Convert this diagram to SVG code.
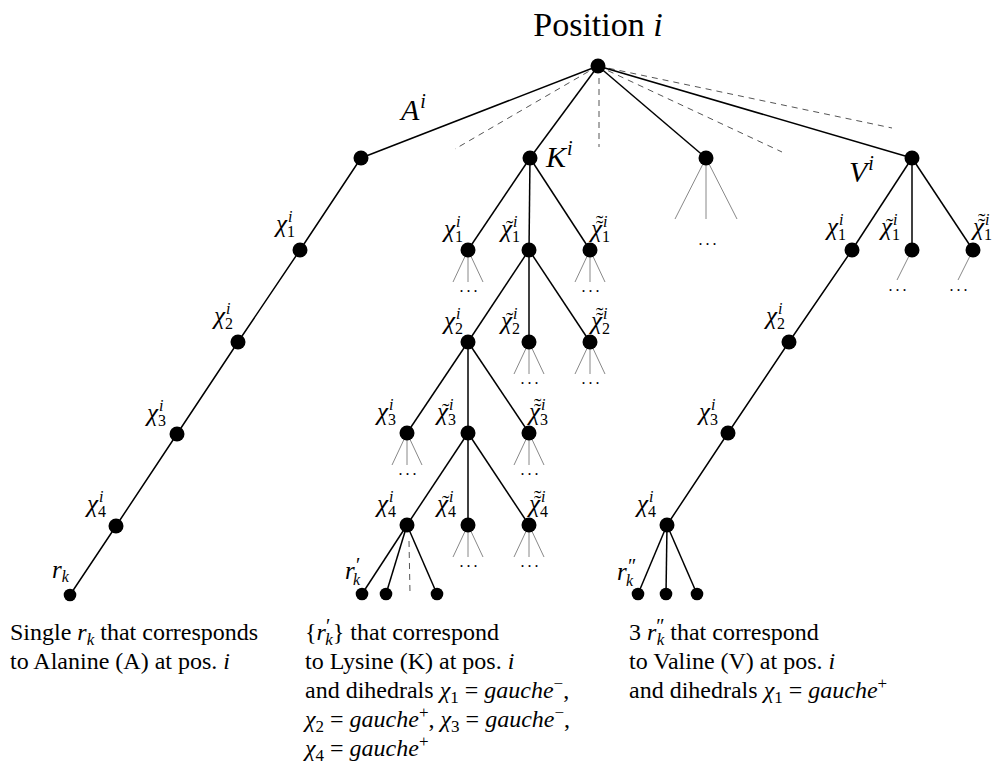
<svg xmlns="http://www.w3.org/2000/svg" width="997" height="767" viewBox="0 0 997 767">
<style>
text{font-family:"Liberation Serif","Times New Roman",serif;fill:#000}
.e{stroke:#000;stroke-width:1.5;fill:none}
.f{stroke:#888;stroke-width:1;fill:none}
.d{stroke:#555;stroke-width:1;stroke-dasharray:6,5;fill:none}
.n{fill:#000}
.m{font-size:25px;font-style:italic}
.sb{font-size:16px;font-style:normal}
.sp{font-size:16px;font-style:italic}
.tl{font-size:22px;font-style:normal}
.big{font-size:30px;font-style:italic}
.bsp{font-size:20px;font-style:italic}
.dots{font-size:16px;letter-spacing:3px}
.body{font-size:24px}
.it{font-style:italic}
.s17{font-size:17px}
.pr{font-size:20px}
</style>
<rect width="997" height="767" fill="#fff"/>
<text x="598" y="36" font-size="34" text-anchor="middle">Position <tspan font-style="italic">i</tspan></text>

<g id="connectors">
<line class="d" x1="598" y1="66" x2="455" y2="149"/>
<line class="d" x1="599" y1="78" x2="599" y2="147"/>
<line class="d" x1="598" y1="66" x2="782" y2="152"/>
<line class="d" x1="598" y1="66" x2="892" y2="128"/>
<line class="e" x1="598" y1="66" x2="361" y2="158"/>
<line class="e" x1="598" y1="66" x2="530" y2="158"/>
<line class="e" x1="598" y1="66" x2="706" y2="158"/>
<line class="e" x1="598" y1="66" x2="912" y2="158"/>
<polyline class="e" points="361,158 300,250 238,342 177,434 116,526 70,595"/>
<line class="e" x1="530" y1="158" x2="468" y2="250"/>
<line class="e" x1="530" y1="158" x2="529" y2="250"/>
<line class="e" x1="530" y1="158" x2="590" y2="250"/>
<line class="e" x1="529" y1="250" x2="468" y2="342"/>
<line class="e" x1="529" y1="250" x2="529" y2="342"/>
<line class="e" x1="529" y1="250" x2="590" y2="342"/>
<line class="e" x1="468" y1="342" x2="407" y2="433"/>
<line class="e" x1="468" y1="342" x2="468" y2="433"/>
<line class="e" x1="468" y1="342" x2="529" y2="433"/>
<line class="e" x1="468" y1="433" x2="407" y2="525"/>
<line class="e" x1="468" y1="433" x2="468" y2="525"/>
<line class="e" x1="468" y1="433" x2="529" y2="525"/>
<line class="e" x1="407" y1="525" x2="362" y2="594"/>
<line class="e" x1="407" y1="525" x2="386" y2="594"/>
<line class="e" x1="407" y1="525" x2="437" y2="594"/>
<line class="d" x1="409" y1="541" x2="410" y2="593"/>
<line class="e" x1="912" y1="158" x2="852" y2="250"/>
<line class="e" x1="912" y1="158" x2="912" y2="250"/>
<line class="e" x1="912" y1="158" x2="973" y2="250"/>
<polyline class="e" points="852,250 789,342 728,433 667,525"/>
<line class="e" x1="667" y1="525" x2="638" y2="594"/>
<line class="e" x1="667" y1="525" x2="666" y2="594"/>
<line class="e" x1="667" y1="525" x2="697" y2="594"/>
<path class="f" d="M706,158L675,219M706,158L706,219M706,158L737,219"/>
<path class="f" d="M468,250l-15,32M468,250l0,32M468,250l15,32"/>
<path class="f" d="M590,250l-15,32M590,250l0,32M590,250l15,32"/>
<path class="f" d="M529,342l-15,32M529,342l0,32M529,342l15,32"/>
<path class="f" d="M590,342l-15,32M590,342l0,32M590,342l15,32"/>
<path class="f" d="M407,433l-15,32M407,433l0,32M407,433l15,32"/>
<path class="f" d="M529,433l-15,32M529,433l0,32M529,433l15,32"/>
<path class="f" d="M468,525l-15,32M468,525l0,32M468,525l15,32"/>
<path class="f" d="M529,525l-15,32M529,525l0,32M529,525l15,32"/>
<path class="f" d="M912,250l-15,30M973,250l-15,30"/>
</g>

<g id="fan-dots">
<text class="dots" x="709" y="245" text-anchor="middle">...</text>
<text class="dots" x="470" y="292" text-anchor="middle">...</text>
<text class="dots" x="592" y="292" text-anchor="middle">...</text>
<text class="dots" x="531" y="384" text-anchor="middle">...</text>
<text class="dots" x="592" y="384" text-anchor="middle">...</text>
<text class="dots" x="409" y="475" text-anchor="middle">...</text>
<text class="dots" x="531" y="475" text-anchor="middle">...</text>
<text class="dots" x="470" y="567" text-anchor="middle">...</text>
<text class="dots" x="531" y="567" text-anchor="middle">...</text>
<text class="dots" x="899" y="291" text-anchor="middle">...</text>
<text class="dots" x="960" y="291" text-anchor="middle">...</text>
</g>

<g id="root"><circle class="n" cx="598" cy="66" r="7.5"/></g>

<g id="A"><circle class="n" cx="361" cy="158" r="7.5"/><text class="big" x="401" y="120">A<tspan class="bsp" dx="1" dy="-12">i</tspan></text></g>
<g id="A-chi1"><circle class="n" cx="300" cy="250" r="7.5"/><text class="m" x="276" y="232">χ<tspan class="sb" dy="5">1</tspan><tspan class="sp" dx="-7" dy="-15">i</tspan></text></g>
<g id="A-chi2"><circle class="n" cx="238" cy="342" r="7.5"/><text class="m" x="214" y="324">χ<tspan class="sb" dy="5">2</tspan><tspan class="sp" dx="-7" dy="-15">i</tspan></text></g>
<g id="A-chi3"><circle class="n" cx="177" cy="434" r="7.5"/><text class="m" x="147" y="421">χ<tspan class="sb" dy="5">3</tspan><tspan class="sp" dx="-7" dy="-15">i</tspan></text></g>
<g id="A-chi4"><circle class="n" cx="116" cy="526" r="7.5"/><text class="m" x="87" y="512">χ<tspan class="sb" dy="5">4</tspan><tspan class="sp" dx="-7" dy="-15">i</tspan></text></g>
<g id="A-rk"><circle class="n" cx="70" cy="595" r="6.3"/><text class="m" x="52" y="578">r<tspan class="sp" dy="4">k</tspan></text></g>

<g id="K"><circle class="n" cx="530" cy="158" r="7.5"/><text class="big" x="546" y="167">K<tspan class="bsp" dx="1" dy="-12">i</tspan></text></g>
<g id="K-chi1"><circle class="n" cx="468" cy="250" r="7.5"/><text class="m" x="444" y="237">χ<tspan class="sb" dy="5">1</tspan><tspan class="sp" dx="-7" dy="-15">i</tspan></text></g>
<g id="K-chit1"><circle class="n" cx="529" cy="250" r="7.5"/><text class="m" x="501" y="237">χ<tspan class="sb" dy="5">1</tspan><tspan class="sp" dx="-7" dy="-15">i</tspan><tspan class="tl" x="506" dy="8">˜</tspan></text></g>
<g id="K-chitt1"><circle class="n" cx="590" cy="250" r="7.5"/><text class="m" x="591" y="237">χ<tspan class="sb" dy="5">1</tspan><tspan class="sp" dx="-7" dy="-15">i</tspan><tspan class="tl" x="596" dy="8">˜</tspan><tspan class="tl" x="596" dy="-5">˜</tspan></text></g>
<g id="K-chi2"><circle class="n" cx="468" cy="342" r="7.5"/><text class="m" x="444" y="329">χ<tspan class="sb" dy="5">2</tspan><tspan class="sp" dx="-7" dy="-15">i</tspan></text></g>
<g id="K-chit2"><circle class="n" cx="529" cy="342" r="7.5"/><text class="m" x="501" y="329">χ<tspan class="sb" dy="5">2</tspan><tspan class="sp" dx="-7" dy="-15">i</tspan><tspan class="tl" x="506" dy="8">˜</tspan></text></g>
<g id="K-chitt2"><circle class="n" cx="590" cy="342" r="7.5"/><text class="m" x="591" y="329">χ<tspan class="sb" dy="5">2</tspan><tspan class="sp" dx="-7" dy="-15">i</tspan><tspan class="tl" x="596" dy="8">˜</tspan><tspan class="tl" x="596" dy="-5">˜</tspan></text></g>
<g id="K-chi3"><circle class="n" cx="407" cy="433" r="7.5"/><text class="m" x="377" y="420">χ<tspan class="sb" dy="5">3</tspan><tspan class="sp" dx="-7" dy="-15">i</tspan></text></g>
<g id="K-chit3"><circle class="n" cx="468" cy="433" r="7.5"/><text class="m" x="437" y="420">χ<tspan class="sb" dy="5">3</tspan><tspan class="sp" dx="-7" dy="-15">i</tspan><tspan class="tl" x="442" dy="8">˜</tspan></text></g>
<g id="K-chitt3"><circle class="n" cx="529" cy="433" r="7.5"/><text class="m" x="529" y="420">χ<tspan class="sb" dy="5">3</tspan><tspan class="sp" dx="-7" dy="-15">i</tspan><tspan class="tl" x="534" dy="8">˜</tspan><tspan class="tl" x="534" dy="-5">˜</tspan></text></g>
<g id="K-chi4"><circle class="n" cx="407" cy="525" r="7.5"/><text class="m" x="377" y="512">χ<tspan class="sb" dy="5">4</tspan><tspan class="sp" dx="-7" dy="-15">i</tspan></text></g>
<g id="K-chit4"><circle class="n" cx="468" cy="525" r="7.5"/><text class="m" x="437" y="512">χ<tspan class="sb" dy="5">4</tspan><tspan class="sp" dx="-7" dy="-15">i</tspan><tspan class="tl" x="442" dy="8">˜</tspan></text></g>
<g id="K-chitt4"><circle class="n" cx="529" cy="525" r="7.5"/><text class="m" x="529" y="512">χ<tspan class="sb" dy="5">4</tspan><tspan class="sp" dx="-7" dy="-15">i</tspan><tspan class="tl" x="534" dy="8">˜</tspan><tspan class="tl" x="534" dy="-5">˜</tspan></text></g>
<g id="K-leaf1"><circle class="n" cx="362" cy="594" r="6.3"/><text class="m" x="345" y="579">r<tspan class="pr" dy="-7">′</tspan><tspan class="sp" dx="-6" dy="13">k</tspan></text></g>
<g id="K-leaf2"><circle class="n" cx="386" cy="594" r="6.3"/></g>
<g id="K-leaf3"><circle class="n" cx="437" cy="594" r="6.3"/></g>

<g id="M"><circle class="n" cx="706" cy="158" r="7.5"/></g>

<g id="V"><circle class="n" cx="912" cy="158" r="7.5"/><text class="big" x="849" y="182">V<tspan class="bsp" dx="1" dy="-12">i</tspan></text></g>
<g id="V-chi1"><circle class="n" cx="852" cy="250" r="7.5"/><text class="m" x="827" y="235">χ<tspan class="sb" dy="5">1</tspan><tspan class="sp" dx="-7" dy="-15">i</tspan></text></g>
<g id="V-chit1"><circle class="n" cx="912" cy="250" r="7.5"/><text class="m" x="881" y="235">χ<tspan class="sb" dy="5">1</tspan><tspan class="sp" dx="-7" dy="-15">i</tspan><tspan class="tl" x="886" dy="8">˜</tspan></text></g>
<g id="V-chitt1"><circle class="n" cx="973" cy="250" r="7.5"/><text class="m" x="973" y="235">χ<tspan class="sb" dy="5">1</tspan><tspan class="sp" dx="-7" dy="-15">i</tspan><tspan class="tl" x="978" dy="8">˜</tspan><tspan class="tl" x="978" dy="-5">˜</tspan></text></g>
<g id="V-chi2"><circle class="n" cx="789" cy="342" r="7.5"/><text class="m" x="766" y="324">χ<tspan class="sb" dy="5">2</tspan><tspan class="sp" dx="-7" dy="-15">i</tspan></text></g>
<g id="V-chi3"><circle class="n" cx="728" cy="433" r="7.5"/><text class="m" x="699" y="420">χ<tspan class="sb" dy="5">3</tspan><tspan class="sp" dx="-7" dy="-15">i</tspan></text></g>
<g id="V-chi4"><circle class="n" cx="667" cy="525" r="7.5"/><text class="m" x="637" y="512">χ<tspan class="sb" dy="5">4</tspan><tspan class="sp" dx="-7" dy="-15">i</tspan></text></g>
<g id="V-leaf1"><circle class="n" cx="638" cy="594" r="6.3"/><text class="m" x="617" y="580">r<tspan class="pr" dy="-7">″</tspan><tspan class="sp" dx="-9" dy="13">k</tspan></text></g>
<g id="V-leaf2"><circle class="n" cx="666" cy="594" r="6.3"/></g>
<g id="V-leaf3"><circle class="n" cx="697" cy="594" r="6.3"/></g>

<g id="caption-A" class="body">
<text x="10" y="640">Single <tspan class="it">r</tspan><tspan class="it s17" dy="5">k</tspan><tspan dy="-5"> that corresponds</tspan></text>
<text x="10" y="669">to Alanine (A) at pos. <tspan class="it">i</tspan></text>
</g>
<g id="caption-K" class="body">
<text x="305" y="640">{<tspan class="it">r</tspan><tspan class="pr" dy="-7">′</tspan><tspan class="it s17" dx="-5" dy="12">k</tspan><tspan dy="-5">} that correspond</tspan></text>
<text x="305" y="669">to Lysine (K) at pos. <tspan class="it">i</tspan></text>
<text x="305" y="698">and dihedrals <tspan class="it">χ</tspan><tspan class="s17" dy="5">1</tspan><tspan dy="-5"> = </tspan><tspan class="it">gauche</tspan><tspan class="s17" dy="-9">−</tspan><tspan dy="9">,</tspan></text>
<text x="305" y="727"><tspan class="it">χ</tspan><tspan class="s17" dy="5">2</tspan><tspan dy="-5"> = </tspan><tspan class="it">gauche</tspan><tspan class="s17" dy="-9">+</tspan><tspan dy="9">, </tspan><tspan class="it">χ</tspan><tspan class="s17" dy="5">3</tspan><tspan dy="-5"> = </tspan><tspan class="it">gauche</tspan><tspan class="s17" dy="-9">−</tspan><tspan dy="9">,</tspan></text>
<text x="305" y="756"><tspan class="it">χ</tspan><tspan class="s17" dy="5">4</tspan><tspan dy="-5"> = </tspan><tspan class="it">gauche</tspan><tspan class="s17" dy="-9">+</tspan></text>
</g>
<g id="caption-V" class="body">
<text x="629" y="640">3 <tspan class="it">r</tspan><tspan class="pr" dy="-7">″</tspan><tspan class="it s17" dx="-8" dy="12">k</tspan><tspan dy="-5"> that correspond</tspan></text>
<text x="629" y="669">to Valine (V) at pos. <tspan class="it">i</tspan></text>
<text x="629" y="698">and dihedrals <tspan class="it">χ</tspan><tspan class="s17" dy="5">1</tspan><tspan dy="-5"> = </tspan><tspan class="it">gauche</tspan><tspan class="s17" dy="-9">+</tspan></text>
</g>
</svg>
